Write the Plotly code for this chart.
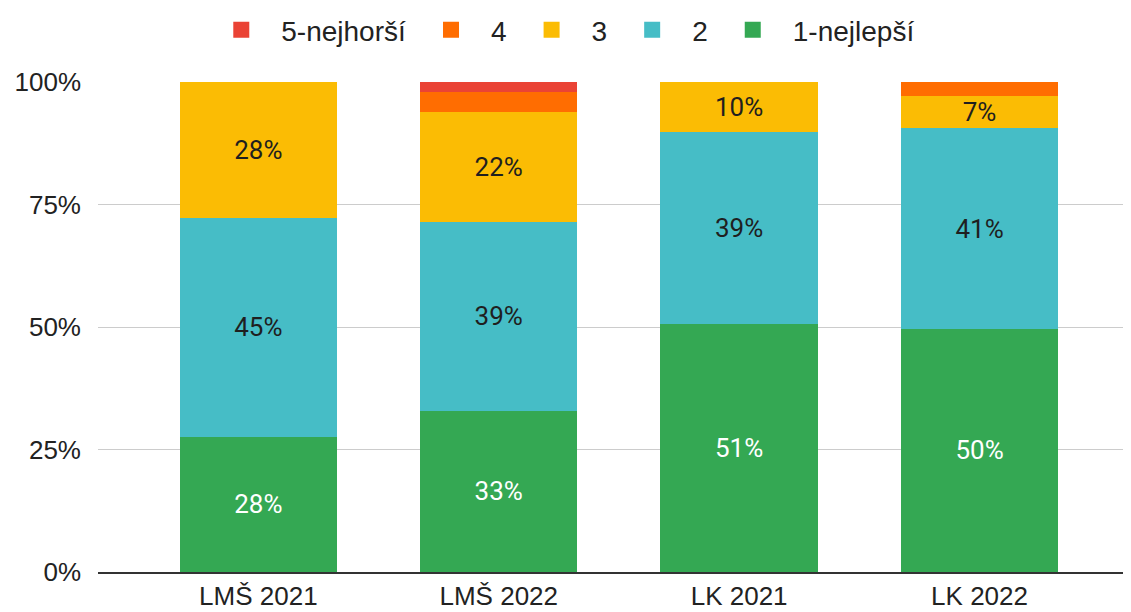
import plotly.graph_objects as go

categories = ["LMŠ 2021", "LMŠ 2022", "LK 2021", "LK 2022"]
series_names = ["1-nejlepší", "2", "3", "4", "5-nejhorší"]
v1 = [27.6, 32.9, 50.6, 49.6]
v2 = [44.6, 38.6, 39.2, 41.0]
v3 = [27.8, 22.3, 10.2, 6.6]
v4 = [0.0, 4.2, 0.0, 2.8]
v5 = [0.0, 2.0, 0.0, 0.0]
y_ticks = [0, 25, 50, 75, 100]
y_tick_labels = ["0%", "25%", "50%", "75%", "100%"]

colors = ["#34A853", "#46BDC6", "#FBBC04", "#FF6D01", "#EA4335"]
text_colors = ["#FFFFFF", "#1f1f1f", "#1f1f1f", "#1f1f1f", "#1f1f1f"]

fig = go.Figure()
for name, vals, col, tcol in zip(series_names, [v1, v2, v3, v4, v5], colors, text_colors):
    txt = [f"{round(v)}%" if v >= 5 else "" for v in vals]
    fig.add_trace(go.Bar(
        x=categories, y=vals, name=name, legendgroup=name, showlegend=False,
        marker=dict(color=col, line=dict(width=0)),
        text=txt, textposition="inside", insidetextanchor="middle",
        textangle=0, constraintext="none",
        textfont=dict(family="Roboto", size=26, color=tcol),
        hoverinfo="skip",
    ))
    # legend entry with a larger square swatch
    fig.add_trace(go.Scatter(
        x=[None], y=[None], mode="markers", name=name, legendgroup=name,
        marker=dict(symbol="square", size=22, color=col),
        hoverinfo="skip",
    ))

fig.update_layout(
    width=1123, height=604,
    barmode="stack", bargap=0.345,
    plot_bgcolor="white", paper_bgcolor="white",
    margin=dict(l=90, r=0, t=74, b=40, autoexpand=False),
    font=dict(family="Liberation Sans, Arial", size=26, color="#222222"),
    showlegend=True,
    legend=dict(orientation="h", traceorder="reversed",
                x=0.448, xanchor="center",
                yref="container", y=0.9636, yanchor="middle",
                font=dict(size=28, color="#222222"),
                itemsizing="trace", itemwidth=70),
)
fig.update_xaxes(
    range=[-0.667, 3.63], showgrid=False, showline=True,
    linecolor="#333333", linewidth=2, ticks="",
    tickfont=dict(size=26, color="#222222"),
)
fig.update_yaxes(
    range=[0, 100], tickvals=y_ticks, ticktext=y_tick_labels,
    showgrid=True, gridcolor="#cccccc", gridwidth=1,
    zeroline=False, showline=False, ticks="",
    ticklabelstandoff=16,
    tickfont=dict(size=26, color="#222222"),
)

fig.write_html("out.html")
